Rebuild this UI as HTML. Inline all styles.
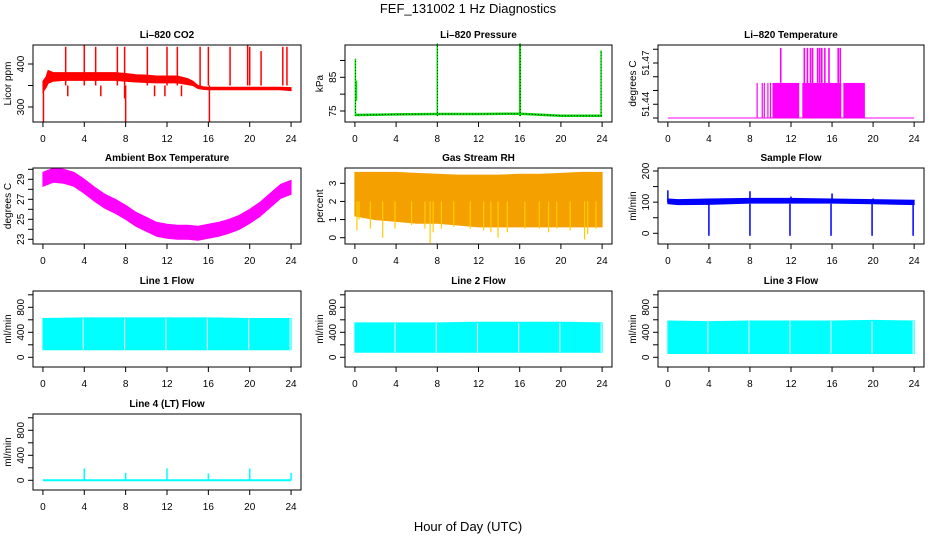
<!DOCTYPE html>
<html><head><meta charset="utf-8">
<style>
html,body{margin:0;padding:0;background:#fff;}
svg{display:block;font-family:"Liberation Sans",Arial,sans-serif;}
</style></head>
<body>
<svg id="c" width="936" height="540" viewBox="0 0 936 540" xmlns="http://www.w3.org/2000/svg">
<text x="468" y="13" text-anchor="middle" font-size="13">FEF_131002  1 Hz Diagnostics</text>
<text x="468" y="531" text-anchor="middle" font-size="13">Hour of Day (UTC)</text>
</svg>
<script>
// ---- data (hours, values) ----
const xTicks = [0,4,8,12,16,20,24];
// CO2
const co2Hours = [0,0.3,0.5,1,2,3,4,5,6,7,8,9,10,11,12,13,14,14.5,15,15.5,16,17,18,19,20,21,22,23,24];
const co2Low  = [335,345,355,360,362,362,362,362,362,362,360,358,357,356,356,356,352,350,343,341,340,340,340,340,340,340,340,340,338];
const co2High = [360,370,385,380,380,380,380,380,380,380,378,375,374,372,372,372,366,360,350,347,346,346,346,346,346,346,346,346,345];
const co2SpikeHours = [2.2,4.0,5.1,7.2,7.9,10.1,12.0,13.0,15.2,16.0,18.1,19.8,20.0,21.1,23.2,23.6];
const co2SpikeTop = [440,445,440,440,440,440,440,440,440,440,440,445,440,430,440,440];
const co2DipHours = [0.05,8.0,16.1,2.4,5.6,10.8,11.8,13.4,7.9];
const co2DipBottom = [265,265,265,325,325,325,325,325,320];
// Pressure
const presHours = [0,4,8,12,16,20,24];
const presBase = [73.8,74.0,74.1,74.1,74.2,73.6,73.6];
const presSpikeHours = [0.05,8.0,16.0,16.05,23.9];
const presSpikeTop = [90.5,95,95,95,93];
// Li-820 temperature
const tempBase = 51.43;
const tempBlockStart = [10.2,13.1,17.1];
const tempBlockEnd = [12.8,16.9,19.2];
const tempMid = 51.4555;
const tempThinHours = [8.7,9.2,9.4,9.75,10.0];
const tempTopHours = [11.0,13.3,13.6,13.9,14.1,14.6,14.8,15.0,15.3,15.7,16.6,16.8];
const tempTop = 51.481;
// Ambient box temperature
const ambHours = [0,1,2,3,4,5,6,7,8,9,10,11,12,13,14,15,16,17,18,19,20,21,22,23,24];
const ambCenter = [29.0,29.4,29.3,29.0,28.3,27.5,26.8,26.3,25.7,25.0,24.5,24.0,23.8,23.7,23.7,23.6,23.8,24.0,24.3,24.7,25.3,26.0,26.9,27.8,28.2];
// Gas stream RH
const rhHours = [0,2,4,6,8,10,12,14,16,18,20,22,24];
const rhHigh = [3.6,3.6,3.6,3.55,3.5,3.45,3.45,3.45,3.5,3.5,3.55,3.6,3.6];
const rhLow = [1.2,1.0,0.9,0.8,0.8,0.7,0.6,0.6,0.6,0.6,0.6,0.6,0.6];
const rhDipHours = [0.2,0.4,1.5,2.7,3.9,5.5,6.8,7.3,7.6,8.4,9.6,11.2,12.5,13.2,13.9,14.8,16.5,17.9,18.8,19.6,20.9,22.3,22.6,23.4];
const rhDipValues = [0.4,1.0,0.5,0.0,0.5,0.7,0.5,-0.3,0.3,0.5,0.6,0.5,0.4,0.3,0.0,0.3,0.5,0.5,0.3,0.5,0.4,-0.1,0.2,0.5];
// Sample flow
const sfHours = [0,1,4,8,12,16,20,24];
const sfLow = [95,92,93,97,97,97,95,92];
const sfHigh = [110,108,110,112,112,110,108,106];
const sfDipHours = [4.0,8.0,11.9,15.9,19.9,23.9];
const sfPeakHours = [0.0,8.0,12.0,16.0,20.0];
const sfPeakValues = [138,135,118,128,112];
// Line flows
const lf1Low = [120,120,120,120,120,120,120];
const lf1High = [620,630,630,630,630,620,620];
const lf2Low = [80,80,80,80,80,80,80];
const lf2High = [550,550,550,560,560,560,550];
const lf3Low = [60,60,60,60,60,60,60];
const lf3High = [580,570,580,580,580,590,580];
const lfHours = [0,4,8,12,16,20,24];
const lfGapHours = [3.9,7.9,11.9,15.9,19.9,23.9];
const lf4SpikeHours = [4,8,12,16,20,24];
const lf4SpikeValues = [190,120,190,110,190,120];

// ---- layout ----
const svg = document.getElementById('c');
const NS = 'http://www.w3.org/2000/svg';
const colL = [33,345,658], colR = [301,612,924];
const rowT = [45,168,291,414], rowB = [122,244,367,490];
function mk(tag, attrs, parent){ const e=document.createElementNS(NS,tag); for(const k in attrs) e.setAttribute(k,attrs[k]); (parent||svg).appendChild(e); return e; }

function panel(col,row,name,title,ylab,y0v,y0p,y1v,y1p,yticks,ylabels){
  const L=colL[col],R=colR[col],T=rowT[row],B=rowB[row],W=R-L;
  const g=mk('g',{});
  
  
  const xs=h=>L+W*0.04/1.08+h*W/25.92;
  const ys=v=>y0p+(v-y0v)*(y1p-y0p)/(y1v-y0v);
  const data=mk('g',{},g);
  
  
  const box=mk('rect',{x:L,y:T,width:W,height:B-T,fill:'none',stroke:'#000','stroke-width':1},g);
  
  
  const t=mk('text',{x:(L+R)/2,y:T-7,'text-anchor':'middle','font-size':10,'font-weight':'bold'},g);
  t.textContent=title;
  
  
  const xa=mk('g',{},g);
  
  
  mk('line',{x1:xs(0),x2:xs(24),y1:B,y2:B,stroke:'#000'},xa);
  xTicks.forEach(h=>{
    mk('line',{x1:xs(h),x2:xs(h),y1:B,y2:B+5,stroke:'#000'},xa);
    const l=mk('text',{x:xs(h),y:B+20,'text-anchor':'middle','font-size':10},xa); l.textContent=h;
  });
  const ya=mk('g',{},g);
  
  
  mk('line',{x1:L,x2:L,y1:ys(yticks[0]),y2:ys(yticks[yticks.length-1]),stroke:'#000'},ya);
  yticks.forEach(v=>mk('line',{x1:L-5,x2:L,y1:ys(v),y2:ys(v),stroke:'#000'},ya));
  ylabels.forEach(v=>{
    const y=ys(v);
    const l=mk('text',{x:L-9,y:y,'text-anchor':'middle','font-size':10,transform:`rotate(-90 ${L-9} ${y})`},ya); l.textContent=v;
  });
  const yl=mk('text',{x:L-22,y:(T+B)/2,'text-anchor':'middle','font-size':10,transform:`rotate(-90 ${L-22} ${(T+B)/2})`},g);
  yl.textContent=ylab;
  
  
  return {xs,ys,data};
}
function band(p,hours,low,high,color){
  let d='M'+hours.map((h,i)=>p.xs(h)+','+p.ys(high[i])).join('L');
  for(let i=hours.length-1;i>=0;i--) d+='L'+p.xs(hours[i])+','+p.ys(low[i]);
  const e=mk('path',{d:d+'Z',fill:color,stroke:color,'stroke-width':1},p.data);
  return e;
}
function vline(p,h,v1,v2,color,w){ return mk('line',{x1:p.xs(h),x2:p.xs(h),y1:p.ys(v1),y2:p.ys(v2),stroke:color,'stroke-width':w||1.5},p.data); }

// CO2
let p=panel(0,0,'co2','Li\u2013820 CO2','Licor ppm',300,107,400,64,[300,350,400],[300,400]);
band(p,co2Hours,co2Low,co2High,'#ff0000');
co2SpikeHours.forEach((h,i)=>vline(p,h,350,co2SpikeTop[i],'#ff0000'));
co2DipHours.forEach((h,i)=>vline(p,h,350,co2DipBottom[i],'#ff0000'));

// Pressure
p=panel(1,0,'pressure','Li\u2013820 Pressure','kPa',75,111,85,77.3,[75,80,85,90],[75,85]);
mk('polyline',{points:presHours.map((h,i)=>p.xs(h)+','+p.ys(presBase[i])).join(' '),fill:'none',stroke:'#00dd00','stroke-width':2.5},p.data);
mk('polyline',{points:presHours.map((h,i)=>p.xs(h)+','+p.ys(presBase[i])).join(' '),fill:'none',stroke:'#000','stroke-width':1,'stroke-dasharray':'1,2'},p.data);
presSpikeHours.forEach((h,i)=>{vline(p,h,73.5,presSpikeTop[i],'#00dd00',1.5);vline(p,h,73.5,presSpikeTop[i],'#000',0.6).setAttribute('stroke-dasharray','1,2');});
vline(p,0.15,78,84,'#00dd00',1.5);

// Li-820 temperature
p=panel(2,0,'li820-temperature','Li\u2013820 Temperature','degrees C',51.43,118,51.47,63,[51.43,51.44,51.45,51.46,51.47,51.48],[51.44,51.47]);
vline(p,0,tempBase,tempBase,'#ff00ff',1).setAttribute('x2',p.xs(24));
tempBlockStart.forEach((s,i)=>{mk('rect',{x:p.xs(s),y:p.ys(tempMid),width:p.xs(tempBlockEnd[i])-p.xs(s),height:p.ys(tempBase)-p.ys(tempMid),fill:'#ff00ff'},p.data);});
tempThinHours.forEach(h=>vline(p,h,tempBase,tempMid,'#ff00ff',1.2));
tempTopHours.forEach(h=>vline(p,h,tempMid,tempTop,'#ff00ff',1.6));

// Ambient
p=panel(0,1,'ambient-temperature','Ambient Box Temperature','degrees C',23,239.3,29,179.3,[23,24,25,26,27,28,29,30],[23,25,27,29]);
band(p,ambHours,ambCenter.map(v=>v-0.7),ambCenter.map(v=>v+0.7),'#ff00ff');

// RH
p=panel(1,1,'gas-stream-rh','Gas Stream RH','percent',0,237.7,3,183.3,[0,1,2,3],[0,1,2,3]);
band(p,rhHours,rhLow,rhHigh,'#f4a000');
rhDipHours.forEach((h,i)=>vline(p,h,2.0,rhDipValues[i],'#ffcc00',1.2));

// Sample flow
p=panel(2,1,'sample-flow','Sample Flow','ml/min',0,233.3,200,171,[0,50,100,150,200],[0,100,200]);
band(p,sfHours,sfLow,sfHigh,'#0000ff');
sfDipHours.forEach(h=>vline(p,h,95,-8,'#0000ff',1.5));
sfPeakHours.forEach((h,i)=>vline(p,h,100,sfPeakValues[i],'#0000ff',1.5));

// Line flows
const flows=[[0,2,'line-1-flow','Line 1 Flow',lf1Low,lf1High],[1,2,'line-2-flow','Line 2 Flow',lf2Low,lf2High],[2,2,'line-3-flow','Line 3 Flow',lf3Low,lf3High]];
flows.forEach(f=>{
  const q=panel(f[0],f[1],f[2],f[3],'ml/min',0,357.3,800,307.3,[0,200,400,600,800,1000],[0,400,800]);
  band(q,lfHours,f[4],f[5],'#00ffff');
  lfGapHours.forEach(h=>vline(q,h,f[4][0],f[5][0],'#ffffff',1));
});
p=panel(0,3,'line-4-flow','Line 4 (LT) Flow','ml/min',0,480.3,800,430.3,[0,200,400,600,800,1000],[0,400,800]);
vline(p,0,0,0,'#00ffff',2).setAttribute('x2',p.xs(24));
lf4SpikeHours.forEach((h,i)=>vline(p,h,0,lf4SpikeValues[i],'#00ffff',1.5));
</script>
</body></html>
